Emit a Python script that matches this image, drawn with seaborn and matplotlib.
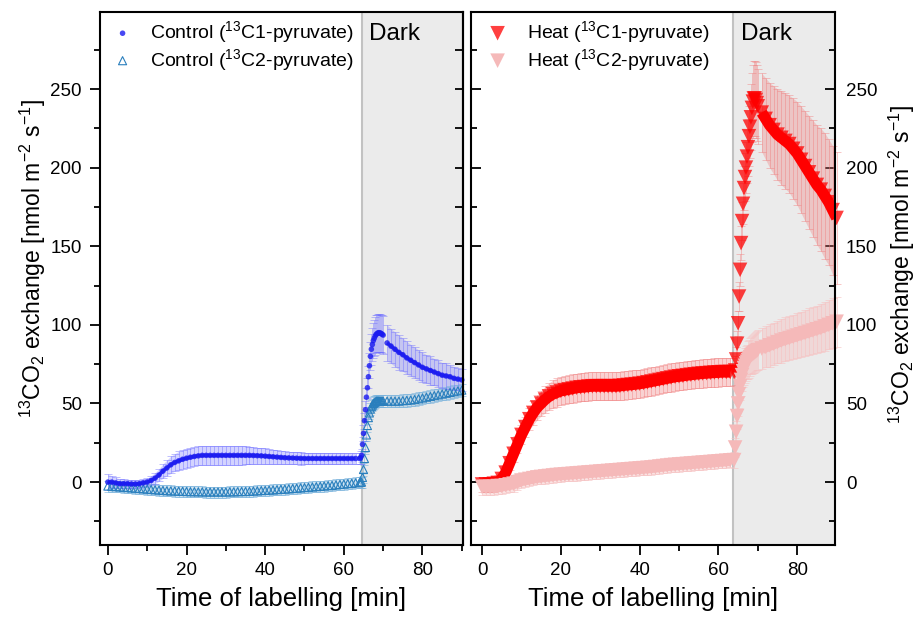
import numpy as np
import pandas as pd
import matplotlib
matplotlib.use("Agg")
import matplotlib.pyplot as plt
from matplotlib.ticker import MultipleLocator
import seaborn as sns

# ---------------- data ----------------
# sampling times [min]: light phase, light->dark switch (fine), dark phase
time_light = np.arange(0, 64)                 # 0 .. 63
time_switch = np.arange(64.0, 70.01, 0.25)    # 64.00 .. 70.00
time_dark = np.arange(71, 91)                 # 71 .. 90

ctrl_c1_light = [0, 0, -0.5, -1, -1, -1, -1.2, -1.2, -1, -0.5,
                 0, 1, 2.5, 4.5, 7, 9, 11, 12.5, 13.5, 14.5,
                 15.2, 15.8, 16.3, 16.7, 17, 17, 17, 17, 17, 17,
                 17, 17, 17, 17, 17, 17, 17, 16.9, 16.8, 16.7,
                 16.5, 16.3, 16.1, 15.9, 15.7, 15.5, 15.4, 15.3, 15.2, 15.1,
                 15, 15, 15, 15, 15, 15, 15, 15, 15, 15,
                 15, 15, 15, 15]
ctrl_c1_switch = [15, 15.5, 17, 24, 31, 39, 46, 54, 60, 67, 74, 80, 84.5,
                  87.5, 90, 91.5, 93, 94, 94.5, 95, 95, 94.8, 94.5, 94, 93.5]
ctrl_c1_dark = [88.5, 86.5, 84.5, 82.5, 81, 79, 77.5, 76, 74.5, 73,
                72, 71, 70, 69, 68, 67.5, 67, 66, 65.5, 65]
ctrl_c1_err_light = [5, 4, 3.5, 3, 3, 2.5, 2.5, 2.5, 2.5, 2.5,
                     2.5, 3, 3.5, 4, 4.5, 5, 5.5, 5.5, 6, 6,
                     6, 6, 6, 6, 6, 6, 6, 6, 6, 6,
                     6, 6, 6, 6, 6, 5.8, 5.6, 5.4, 5.2, 5,
                     5, 4.8, 4.6, 4.4, 4.2, 4, 4, 4, 4, 4,
                     3.8, 3.8, 3.8, 3.8, 3.8, 3.8, 3.8, 3.8, 3.8, 3.8,
                     3.5, 3.5, 3.5, 3.5]
ctrl_c1_err_switch = [3.5, 4, 4, 4.5, 5, 5, 5.5, 6, 6.5, 7, 8, 9, 10,
                      10.5, 11, 11.5, 12, 12, 12, 12, 12, 12, 12, 12, 12]
ctrl_c1_err_dark = [11.5, 11, 11, 11, 10.5, 10.5, 10, 10, 9.5, 9.5,
                    9, 9, 8.5, 8.5, 8, 8, 7.5, 7.5, 7, 7]

ctrl_c2_light = [-2.5, -2.7, -2.9, -3.1, -3.3, -3.5, -3.7, -3.9, -4.1, -4.3,
                 -4.5, -4.7, -4.9, -5.1, -5.3, -5.5, -5.6, -5.7, -5.8, -5.9,
                 -6, -6.1, -6.1, -6.2, -6.2, -6.3, -6.3, -6.3, -6.3, -6.3,
                 -6.3, -6.2, -6.2, -6.1, -6, -6, -5.9, -5.7, -5.6, -5.4,
                 -5.3, -5.1, -5, -4.8, -4.6, -4.5, -4.3, -4.1, -3.9, -3.7,
                 -3.5, -3.3, -3.1, -2.9, -2.7, -2.5, -2.3, -2.1, -1.8, -1.5,
                 -1.3, -1, -0.8, -0.5]
ctrl_c2_switch = [-0.3, -0.2, 0, 3, 8, 15, 22, 30, 36, 41, 44, 46.5, 48,
                  49, 50, 50.5, 51, 51.5, 51.5, 51.5, 51.5, 51.5, 51.5, 51.5, 51.5]
ctrl_c2_dark = [51.5, 51.5, 51.5, 51.5, 51.8, 52, 52.2, 52.5, 53, 53.5,
                54, 54.5, 55, 55.5, 56, 56.5, 57, 57.5, 58, 58.5]
ctrl_c2_err_light = [3.5, 3.5, 3.5, 3.5, 3.5, 3.5, 3.5, 3.5, 3.5, 3.5,
                     3.5, 3.5, 3.5, 3.5, 3.5, 3.5, 3.5, 3.5, 3.5, 3.5,
                     3.5, 3.5, 3.5, 3.5, 3.5, 3.5, 3.5, 3.5, 3.5, 3.5,
                     3.5, 3.5, 3.5, 3.5, 3.5, 3.5, 3.5, 3.5, 3.5, 3.5,
                     3.5, 3.5, 3.5, 3.5, 3.5, 3.5, 3.5, 3.5, 3.5, 3.5,
                     3.5, 3.5, 3.5, 3.5, 3.5, 3.5, 3.5, 3.5, 3.5, 3.5,
                     3.5, 3.5, 3.5, 3.5]
ctrl_c2_err_switch = [3.5, 3.5, 3.5, 3.5, 4, 4, 4, 4, 4, 4, 4, 4, 4,
                      4, 4, 4, 4, 4, 4, 4, 4, 4, 4, 4, 4]
ctrl_c2_err_dark = [4, 4, 4, 4, 4, 4, 4, 4, 4, 4,
                    4, 4, 4, 4, 4, 4, 4, 4, 4, 4]

heat_c1_light = [-1.5, -1.5, -1.5, -1, -0.5, 2, 6, 12, 18, 24,
                 30, 35, 40, 44, 47.5, 50, 52.5, 54.5, 56, 57,
                 58, 58.5, 59, 59.5, 60, 60.3, 60.5, 60.8, 61, 61,
                 61, 61, 61, 61, 61, 61.2, 61.5, 61.8, 62, 62.3,
                 62.6, 63, 63.5, 64, 64.5, 65, 65.5, 66, 66.5, 67,
                 67.3, 67.6, 68, 68.3, 68.6, 68.9, 69.1, 69.3, 69.5, 69.7,
                 69.8, 70, 70, 70]
heat_c1_switch = [70, 71, 78, 88, 101, 118, 135, 152, 166, 177, 187, 194, 200,
                  207, 213, 220, 226, 232, 238, 242, 244, 244, 243, 241, 239]
heat_c1_dark = [235, 231, 227, 224, 221, 219, 217, 215, 212, 209,
                205, 201, 197, 193, 189, 186, 182, 178, 173, 168]
heat_c1_err_light = [5, 5, 5, 5, 5, 4.5, 4.5, 4.5, 5, 5.5,
                     6, 6.5, 7, 7.5, 8, 8, 8.5, 8.5, 9, 9,
                     9, 9, 9, 9, 9, 9, 9, 9, 9, 9,
                     9, 9, 9, 9, 9, 9, 9, 9, 9, 9,
                     9, 9, 9, 9, 9, 9, 9, 9, 9, 9,
                     9, 9, 9, 9, 9, 9, 9, 9, 9, 9,
                     9, 9, 9, 9]
heat_c1_err_switch = [9, 9, 8, 8, 8, 9, 10, 11, 12, 13, 14, 15, 16,
                      17, 18, 19, 20, 21, 22, 23, 24, 24, 24, 24, 24]
heat_c1_err_dark = [25, 26, 27, 28, 29, 30, 30.5, 31, 32, 33,
                    34, 35, 36, 37, 38, 39, 40, 40, 41, 42]

heat_c2_light = [-3, -3, -3, -3, -2.5, -2.5, -2, -1.5, -1, 0,
                 1, 1.5, 2, 2.5, 3, 3.3, 3.6, 3.9, 4.2, 4.5,
                 4.7, 4.9, 5.1, 5.3, 5.5, 5.7, 5.9, 6.1, 6.3, 6.5,
                 6.7, 6.9, 7.1, 7.3, 7.5, 7.7, 7.9, 8.1, 8.3, 8.5,
                 8.7, 8.9, 9.1, 9.3, 9.6, 9.9, 10.2, 10.5, 10.8, 11,
                 11.2, 11.4, 11.6, 11.8, 12, 12.2, 12.4, 12.6, 12.8, 13,
                 13.2, 13.4, 13.6, 13.8]
heat_c2_switch = [14, 22, 32, 42, 50, 56, 61, 65, 68, 70.5, 72.5, 74, 75.5,
                  76.5, 77.5, 78.5, 79.5, 80.5, 81, 81.5, 82, 82.5, 83, 83.5, 84]
heat_c2_dark = [85, 86, 87, 88, 89, 90, 90.8, 91.6, 92.4, 93.2,
                94, 94.8, 95.6, 96.4, 97.2, 98, 99, 100, 101, 102]
heat_c2_err_light = [5, 5, 5, 5, 5, 5, 5, 5, 5, 5,
                     4.5, 4.5, 4.5, 4.5, 4.5, 4.5, 4.5, 4.5, 4.5, 4.5,
                     4.5, 4.5, 4.5, 4.5, 4.5, 4.5, 4.5, 4.5, 4.5, 4.5,
                     4.5, 4.5, 4.5, 4.5, 4.5, 4.5, 4.5, 4.5, 4.5, 4.5,
                     4.5, 4.5, 4.5, 4.5, 4.5, 4.5, 4.5, 4.5, 4.5, 4.5,
                     4.5, 4.5, 4.5, 4.5, 4.5, 4.5, 4.5, 4.5, 4.5, 4.5,
                     4.5, 4.5, 4.5, 4.5]
heat_c2_err_switch = [5, 6, 7, 8, 8, 9, 9, 10, 10, 10, 11, 11, 11,
                      11, 12, 12, 12, 12, 12, 12, 12.5, 12.5, 12.5, 12.5, 13]
heat_c2_err_dark = [13, 13, 13.5, 13.5, 13.5, 14, 14, 14, 14, 14.5,
                    14.5, 14.5, 15, 15, 15, 15.5, 15.5, 15.5, 16, 16]

dark_start_control = 64.5
dark_start_heat = 63.8

labels = {
    "c1": r"Control ($^{13}$C1-pyruvate)",
    "c2": r"Control ($^{13}$C2-pyruvate)",
    "h1": r"Heat ($^{13}$C1-pyruvate)",
    "h2": r"Heat ($^{13}$C2-pyruvate)",
}

time = np.concatenate([time_light, time_switch, time_dark])
phase = (["light"] * len(time_light) + ["switch"] * len(time_switch)
         + ["dark"] * len(time_dark))


def series(a, b, c):
    return np.concatenate([np.asarray(a, float), np.asarray(b, float), np.asarray(c, float)])


df = pd.DataFrame({
    "time": time,
    "phase": phase,
    "c1": series(ctrl_c1_light, ctrl_c1_switch, ctrl_c1_dark),
    "c1_err": series(ctrl_c1_err_light, ctrl_c1_err_switch, ctrl_c1_err_dark),
    "c2": series(ctrl_c2_light, ctrl_c2_switch, ctrl_c2_dark),
    "c2_err": series(ctrl_c2_err_light, ctrl_c2_err_switch, ctrl_c2_err_dark),
    "h1": series(heat_c1_light, heat_c1_switch, heat_c1_dark),
    "h1_err": series(heat_c1_err_light, heat_c1_err_switch, heat_c1_err_dark),
    "h2": series(heat_c2_light, heat_c2_switch, heat_c2_dark),
    "h2_err": series(heat_c2_err_light, heat_c2_err_switch, heat_c2_err_dark),
})

# ---------------- style ----------------
sns.set_theme(style="ticks")
plt.rcParams["font.family"] = ["Liberation Sans", "DejaVu Sans"]
plt.rcParams["mathtext.fontset"] = "custom"
plt.rcParams["mathtext.rm"] = "Liberation Sans"
plt.rcParams["mathtext.it"] = "Liberation Sans:italic"
plt.rcParams["mathtext.bf"] = "Liberation Sans:bold"
plt.rcParams["mathtext.default"] = "regular"
plt.rcParams["axes.linewidth"] = 1.5
for key in ("text.color", "axes.labelcolor", "xtick.color", "ytick.color", "axes.edgecolor"):
    plt.rcParams[key] = "black"

fig = plt.figure(figsize=(9.19, 6.21), dpi=100)
ax1 = fig.add_axes([0.1088, 0.1224, 0.3950, 0.8583])
ax2 = fig.add_axes([0.5125, 0.1224, 0.3961, 0.8583])

ylabel = r"$^{13}$CO$_2$ exchange [nmol m$^{-2}$ s$^{-1}$]"

for ax, ds in ((ax1, dark_start_control), (ax2, dark_start_heat)):
    ax.axvspan(ds, 100, color="#ebebeb", lw=0, zorder=0)
    ax.axvline(ds, color="#c2c2c2", lw=1.5, zorder=0.5)
    ax.text(ds + 2.0, 292, "Dark", fontsize=17.5, va="top", ha="left", color="black", zorder=6)


def draw_series(ax, col, mcolor, ecolor, fill_alpha, bar_alpha, line_lw, line_alpha, z):
    """Error band + error bars + dense-marker band for one series."""
    for ph in ("light", "dark"):
        seg = df[df["phase"] == ph]
        ax.fill_between(seg["time"], seg[col] - seg[col + "_err"], seg[col] + seg[col + "_err"],
                        color=ecolor, alpha=fill_alpha, lw=0, zorder=1.5)
        if line_lw > 0:
            sns.lineplot(x=seg["time"].to_numpy(), y=seg[col].to_numpy(), ax=ax, color=mcolor,
                         lw=line_lw, alpha=line_alpha, estimator=None, sort=False,
                         legend=False, zorder=z - 0.5, solid_capstyle="butt")
    ax.errorbar(df["time"], df[col], yerr=df[col + "_err"], fmt="none", ecolor=ecolor,
                elinewidth=0.7, capsize=3, capthick=0.7, alpha=bar_alpha, zorder=2,
                clip_on=False)


# ---- left panel: control ----
draw_series(ax1, "c2", "#2f86c2", "#7ab3dc", 0.35, 0.6, 0, 0, 3)
draw_series(ax1, "c1", "#1a1af0", "#7070ff", 0.30, 0.45, 2.6, 0.85, 4)
sns.scatterplot(data=df, x="time", y="c2", ax=ax1, marker="^", s=34, color="#2a7fbd",
                facecolors="none", edgecolor="#2a7fbd", linewidth=0.8,
                label=labels["c2"], zorder=3, clip_on=False)
sns.scatterplot(data=df, x="time", y="c1", ax=ax1, marker="o", s=16, color="#1a1af0",
                edgecolor="none", alpha=0.8, label=labels["c1"], zorder=4, clip_on=False)

# ---- right panel: heat ----
draw_series(ax2, "h1", "#ff0000", "#f08080", 0.35, 0.45, 8, 1.0, 3)
draw_series(ax2, "h2", "#f5b9b9", "#f6c2c2", 0.45, 0.6, 8, 1.0, 4)
sns.scatterplot(data=df, x="time", y="h1", ax=ax2, marker="v", s=110, color="#ff0000",
                edgecolor="none", alpha=0.75, label=labels["h1"], zorder=3, clip_on=False)
sns.scatterplot(data=df, x="time", y="h2", ax=ax2, marker="v", s=110, color="#f5b9b9",
                edgecolor="none", alpha=1.0, label=labels["h2"], zorder=4, clip_on=False)

# ---- axes formatting ----
for ax in (ax1, ax2):
    ax.set_ylim(-40, 299)
    ax.xaxis.set_major_locator(MultipleLocator(20))
    ax.xaxis.set_minor_locator(MultipleLocator(10))
    ax.yaxis.set_major_locator(MultipleLocator(50))
    ax.yaxis.set_minor_locator(MultipleLocator(25))
    ax.tick_params(axis="x", which="both", direction="out", top=False, bottom=True,
                   labelsize=13.5, width=1.3, pad=5)
    ax.tick_params(axis="x", which="major", length=7)
    ax.tick_params(axis="x", which="minor", length=4)
    ax.set_xlabel("Time of labelling [min]", fontsize=18.5, labelpad=6)
    for sp in ax.spines.values():
        sp.set_visible(True)
        sp.set_linewidth(1.5)
        sp.set_color("black")
        sp.set_zorder(7)

ax1.set_xlim(-2, 90.3)
ax2.set_xlim(-2.8, 89.6)

# left panel y: outward ticks on left, inward ticks on right
ax1.tick_params(axis="y", which="both", direction="out", left=True, right=False,
                labelleft=True, labelsize=13.5, width=1.3, pad=6)
ax1.tick_params(axis="y", which="major", length=7)
ax1.tick_params(axis="y", which="minor", length=4.5)
sec = ax1.secondary_yaxis("right")
sec.yaxis.set_major_locator(MultipleLocator(50))
sec.yaxis.set_minor_locator(MultipleLocator(25))
sec.tick_params(axis="y", which="both", direction="in", labelright=False, width=1.3, length=6)
sec.spines["right"].set_linewidth(1.5)
ax1.set_ylabel(ylabel, fontsize=16.5)
ax1.yaxis.set_label_coords(-0.143, 0.538)

# right panel y: inward ticks on both sides, labels on right
ax2.tick_params(axis="y", which="both", direction="in", left=True, right=True,
                labelleft=False, labelright=True, labelsize=13.5, width=1.3, pad=8)
ax2.tick_params(axis="y", which="major", length=7)
ax2.tick_params(axis="y", which="minor", length=4)
ax2.yaxis.set_label_position("right")
ax2.set_ylabel(ylabel, fontsize=16.5, rotation=90)
ax2.yaxis.set_label_coords(1.143, 0.527)

# legends
h, l = ax1.get_legend_handles_labels()
order = [l.index(labels["c1"]), l.index(labels["c2"])]
ax1.legend([h[i] for i in order], [l[i] for i in order], loc="upper left",
           bbox_to_anchor=(0.014, 0.999), frameon=False, fontsize=14,
           borderaxespad=0, borderpad=0.35, handlelength=1.1, handletextpad=0.85,
           labelspacing=0.08)
ax2.legend(loc="upper left", bbox_to_anchor=(0.025, 0.999), frameon=False, fontsize=14,
           borderaxespad=0, borderpad=0.35, handlelength=1.1, handletextpad=0.95,
           labelspacing=0.08)

fig.savefig("out.png", dpi=100)
